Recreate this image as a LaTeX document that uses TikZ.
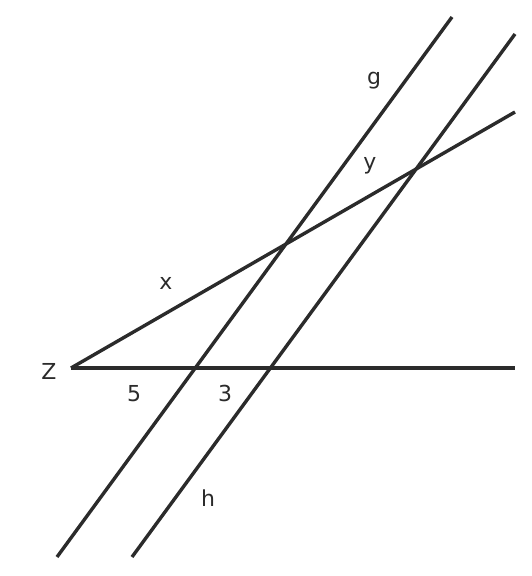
\documentclass[tikz,border=0pt]{standalone}
\usepackage{fontspec}
\setmainfont{DejaVu Sans}
\definecolor{ink}{HTML}{2B2B2B}
\begin{document}
\begin{tikzpicture}[x=1pt,y=-1pt,
  ln/.style={draw=ink,line width=3.4pt,line cap=butt},
  lbl/.style={text=ink,font=\fontsize{22}{22}\selectfont,inner sep=0pt,anchor=base}]
\useasboundingbox (0,0) rectangle (532,576);
\coordinate (Z) at (71,368);
\coordinate (E) at (515,368);
\coordinate (S) at (515,112);
\coordinate (g1) at (452,17);
\coordinate (g2) at (57,557);
\coordinate (h1) at (515,34);
\coordinate (h2) at (132,557);
\draw[ln] (Z) -- (E);
\draw[ln] (Z) -- (S);
\draw[ln] (g2) -- (g1);
\draw[ln] (h2) -- (h1);
\node[lbl] (lZ) at (49,379) {Z};
\node[lbl] (l5) at (134,401) {5};
\node[lbl] (l3) at (225,401) {3};
\node[lbl] (lx) at (166,289) {x};
\node[lbl] (ly) at (370,169) {y};
\node[lbl] (lg) at (374,84) {g};
\node[lbl] (lh) at (208,506) {h};
\end{tikzpicture}
\end{document}
